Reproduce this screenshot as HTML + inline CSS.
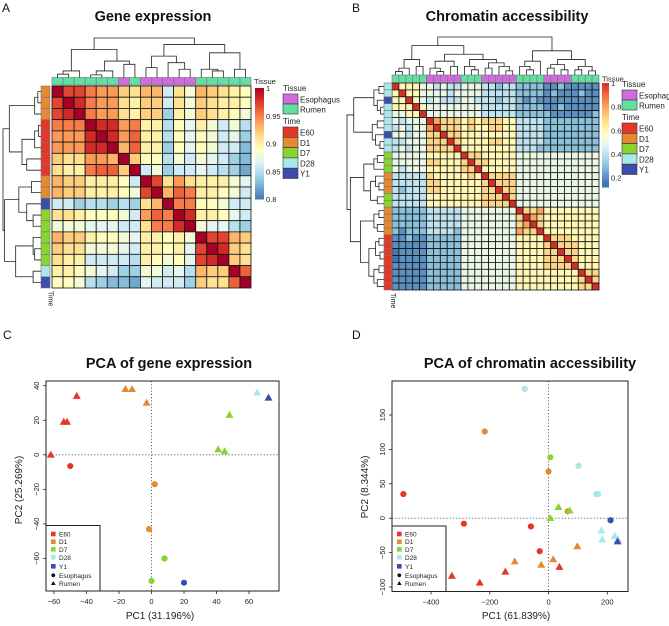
<!DOCTYPE html>
<html><head><meta charset="utf-8"><style>
html,body{margin:0;padding:0;background:#fff;}
svg{display:block;font-family:"Liberation Sans",Arial,sans-serif;}
</style></head><body>
<svg id="fig" width="669" height="626" viewBox="0 0 669 626" xmlns="http://www.w3.org/2000/svg"></svg>
<script>
// ---------- DATA ----------
const heatA = [
[1,.97,.97,.95,.94,.94,.92,.91,.93,.93,.86,.91,.88,.93,.92,.91,.90,.89],
[.97,1,.98,.95,.94,.94,.91,.90,.92,.92,.86,.91,.88,.92,.91,.90,.90,.89],
[.97,.98,1,.95,.94,.94,.91,.90,.92,.92,.84,.90,.88,.92,.91,.90,.89,.88],
[.95,.95,.95,1,.98,.98,.94,.95,.90,.90,.85,.89,.87,.90,.88,.86,.88,.85],
[.94,.94,.94,.98,1,.98,.94,.96,.90,.90,.85,.89,.87,.89,.88,.86,.87,.84],
[.94,.94,.94,.98,.98,1,.93,.96,.90,.90,.84,.89,.87,.89,.88,.86,.86,.83],
[.92,.91,.91,.94,.94,.93,1,.92,.89,.89,.85,.88,.86,.88,.87,.86,.84,.83],
[.91,.90,.90,.95,.96,.96,.92,1,.86,.88,.84,.86,.86,.87,.86,.85,.84,.82],
[.93,.92,.92,.90,.90,.90,.89,.86,1,.97,.91,.94,.91,.90,.90,.90,.88,.87],
[.93,.92,.92,.90,.90,.90,.89,.88,.97,1,.93,.96,.95,.90,.90,.89,.88,.86],
[.86,.86,.84,.85,.85,.84,.85,.84,.91,.93,1,.95,.95,.89,.89,.88,.86,.86],
[.91,.91,.90,.89,.89,.89,.88,.86,.94,.96,.95,1,.98,.90,.90,.89,.87,.86],
[.88,.88,.88,.87,.87,.87,.86,.86,.91,.95,.95,.98,1,.88,.87,.87,.85,.84],
[.93,.92,.92,.90,.89,.89,.88,.87,.90,.90,.89,.90,.88,1,.97,.97,.93,.92],
[.92,.91,.91,.88,.88,.88,.87,.86,.90,.90,.89,.90,.87,.97,1,.98,.92,.91],
[.91,.90,.90,.86,.86,.86,.86,.85,.90,.89,.88,.89,.87,.97,.98,1,.92,.91],
[.90,.90,.89,.88,.87,.86,.84,.84,.88,.88,.86,.87,.85,.93,.92,.92,1,.96],
[.89,.89,.88,.85,.84,.83,.83,.82,.87,.86,.86,.86,.84,.92,.91,.91,.96,1]];
const rowTimeA = ['D1','D1','D1','E60','E60','E60','E60','E60','D1','D1','Y1','D7','D7','D7','D7','D7','D28','Y1'];
const colTissueA = ['R','R','R','R','R','R','E','R','E','E','E','E','E','R','R','R','R','R'];
const colTreeA = [120,[85,[20,[10,0,1],2],[50,[20,[8,3,4],5],[40,6,7]]],[100,[65,[30,8,9],[45,10,[25,11,12]]],[75,[25,13,[20,14,15]],[25,16,17]]]];
const rowTreeA = [120,[100,[20,[10,0,1],2],[60,[20,[8,3,4],5],[45,6,7]]],[115,[70,[30,8,9],[45,10,[25,11,12]]],[80,[25,13,[20,14,15]],[25,16,17]]]];

// digit d -> d/10, X -> 1
const heatB = [
"X6665 54544 555 44344 3333 22322222",
"6X665 55545 555 44444 3333 23222322",
"66X65 45444 554 44344 3232 22222222",
"666X6 55555 555 44444 3333 22322222",
"5566X 55555 555 44444 3333 32222223",
"54555 X8777 676 77766 4444 33333333",
"45455 8X777 676 67766 4444 33333333",
"55455 77X77 666 66666 4444 33333333",
"44555 777X7 666 67766 4444 33333333",
"45455 7777X 666 66666 4443 33333333",
"55555 66666 X77 66666 5555 55555555",
"55555 77666 7X7 76666 5555 55555555",
"54555 66666 77X 66666 5555 55555555",
"44444 76666 676 X7777 5555 55555555",
"44444 77666 666 7X777 5555 55555555",
"43444 77666 666 77X77 5555 55555555",
"44444 66666 666 777X7 5555 55555555",
"44444 66666 666 7777X 5555 55555555",
"33333 44444 555 55555 X778 66666666",
"33333 44444 555 55555 7X87 66666666",
"33333 44444 555 55555 78X7 66666666",
"32333 44443 555 55555 877X 66666666",
"22322 33333 555 55555 6666 X7776666",
"22222 33333 555 55555 6666 7X777666",
"12222 33333 555 55555 6666 77X77666",
"12222 33333 555 55555 6666 777X7666",
"22222 33333 555 55555 6666 7777X666",
"22222 33333 555 55555 6666 66666X77",
"22222 33333 555 55555 6666 666667X7",
"22222 33333 555 55555 6666 6666677X"];
const rowTimeB = ['D28','D28','Y1','D28','D28','D28','D28','Y1','D28','D28','D7','D7','D7','D1','D1','D1','D7','D7','D1','D1','D1','D1','E60','E60','E60','E60','E60','E60','E60','E60'];
const colTissueB = ['R','R','R','R','R','E','E','E','E','E','R','R','R','E','E','E','E','E','R','R','R','R','E','E','E','E','R','R','R','R'];
const colTreeB = [110,[85,[45,[20,[10,0,1],2],[25,3,4]],[60,[40,[20,5,[10,6,7]],[25,8,9]],[45,[25,10,[15,11,12]],[35,[20,13,14],[25,15,[12,16,17]]]]]],[70,[40,[25,18,[15,19,20]],21],[45,[30,[20,22,23],[15,24,25]],[25,[15,26,27],[12,28,29]]]]];
const rowTreeB = [110,[90,[30,[15,0,1],[20,2,[10,3,4]]],[35,[20,5,6],[25,7,[12,8,9]]]],[100,[60,[30,[20,10,11],12],[40,[25,13,[15,14,15]],[20,16,17]]],[70,[30,[15,18,19],[20,20,21]],[45,[25,[15,22,23],[12,24,25]],[30,[15,26,27],[20,28,29]]]]]];

// PCA C
const pcaC_x = [-62,-54,-52,-46,-16,-12,-3,48,41,45,65,72,-50,2,-1.5,8,0,20];
const pcaC_y = [0,19,19,34,38,38,30,23,3,2,36,33,-6.5,-17,-43,-60,-73,-74];
const pcaC_t = ['E60','E60','E60','E60','D1','D1','D1','D7','D7','D7','D28','Y1','E60','D1','D1','D7','D7','Y1'];
const pcaC_s = ['tri','tri','tri','tri','tri','tri','tri','tri','tri','tri','tri','tri','cir','cir','cir','cir','cir','cir'];
const ticksCx = [-60,-40,-20,0,20,40,60];
const ticksCy = [-60,-40,-20,0,20,40];
// PCA D
const pcaD_x = [-81,-217,6,0,102,-494,163,169,65,211,-288,-60,-30, 34,72,6,180,183,225,236,235,98,-115,-25,16,37,-147,-234,-329];
const pcaD_y = [188,126,88.5,68,76,35,35,35,10,-3,-8,-12,-48, 16,11,0,-18,-31,-26,-31,-34,-41,-63,-68,-60,-71,-78,-94,-84];
const pcaD_t = ['D28','D1','D7','D1','D28','E60','D28','D28','D1','Y1','E60','E60','E60','D7','D7','D7','D28','D28','D28','D28','Y1','D1','D1','D1','D1','E60','E60','E60','E60'];
const pcaD_s = ['cir','cir','cir','cir','cir','cir','cir','cir','cir','cir','cir','cir','cir','tri','tri','tri','tri','tri','tri','tri','tri','tri','tri','tri','tri','tri','tri','tri','tri'];
const ticksDx = [-400,-200,0,200];
const ticksDy = [-100,-50,0,50,100,150];

const timeCol = {E60:'#e4372a',D1:'#e58a32',D7:'#8ad431',D28:'#a8e8e8',Y1:'#3a4cae'};
const tissueCol = {E:'#d06be0',R:'#63dfa2'};
const timeNames = ['E60','D1','D7','D28','Y1'];

// ---------- HELPERS ----------
const NS='http://www.w3.org/2000/svg';
const svg=document.getElementById('fig');
function el(tag,attrs,parent){const e=document.createElementNS(NS,tag);for(const k in attrs)e.setAttribute(k,attrs[k]);(parent||svg).appendChild(e);return e;}
function txt(s,attrs,parent){const e=el('text',attrs,parent);e.textContent=s;return e;}
const stops=['#4575b4','#74add1','#abd9e9','#e0f3f8','#ffffbf','#fee090','#fdae61','#f46d43','#d73027','#a50026'];
function hex(h){return [1,3,5].map(i=>parseInt(h.substr(i,2),16));}
function cmap(v,lo,hi){let t=(v-lo)/(hi-lo);t=Math.max(0,Math.min(1,t));const p=t*(stops.length-1);const i=Math.min(stops.length-2,Math.floor(p));const f=p-i;const a=hex(stops[i]),b=hex(stops[i+1]);return 'rgb('+a.map((c,k)=>Math.round(c+(b[k]-c)*f)).join(',')+')';}

function dendro(tree,orient,leafStart,step,base,len,g){
  const maxH=tree[0];
  function rec(n){
    if(typeof n==='number') return {p:leafStart+(n+0.5)*step,h:0};
    const a=rec(n[1]),b=rec(n[2]);
    const c=v=>base-len*v/maxH;
    const hy=c(n[0]);
    if(orient==='top'){
      el('path',{d:`M${a.p},${c(a.h)}V${hy}H${b.p}V${c(b.h)}`,fill:'none',stroke:'#222','stroke-width':0.8},g);
    }else{
      el('path',{d:`M${c(a.h)},${a.p}H${hy}V${b.p}H${c(b.h)}`,fill:'none',stroke:'#222','stroke-width':0.8},g);
    }
    return {p:(a.p+b.p)/2,h:n[0]};
  }
  rec(tree);
}

function heatPanel(o){
  const g=el('g',{});
  
  
  const n=o.vals.length, cw=(o.x1-o.x0)/n, ch=(o.y1-o.y0)/n;
  const cells=el('g',{},g);
  
  
  for(let i=0;i<n;i++)for(let j=0;j<n;j++){
    const r=el('rect',{x:o.x0+j*cw,y:o.y0+i*ch,width:cw,height:ch,fill:cmap(o.vals[i][j],o.lo,o.hi),stroke:'#111','stroke-width':0.8},cells);
    
    
  }
  for(let j=0;j<n;j++){
    const r=el('rect',{x:o.x0+j*cw,y:o.ay0,width:cw,height:o.ay1-o.ay0,fill:tissueCol[o.tissue[j]],stroke:'#777','stroke-width':0.6},g);
    
    
  }
  for(let i=0;i<n;i++){
    const r=el('rect',{x:o.ax0,y:o.y0+i*ch,width:o.ax1-o.ax0,height:ch,fill:timeCol[o.time[i]],stroke:'#777','stroke-width':0.6},g);
    
    
  }
  const dg=el('g',{},g);
  
  
  dendro(o.colTree,'top',o.x0,cw,o.ay0,o.ay0-o.dTop,dg);
  const rg=el('g',{},g);
  
  
  dendro(o.rowTree,'left',o.y0,ch,o.ax0,o.ax0-o.dLeft,rg);
  let t=txt('Tissue',{x:o.x1+3,y:o.ay1-1,'font-size':7.5,fill:'#222'},g);
  
  
  t=txt('Time',{x:0,y:0,'font-size':7,fill:'#222',transform:`translate(${(o.ax0+o.ax1)/2+3},${o.y1+3}) rotate(90)`},g);
  
  
  const cb=el('g',{},g);
  
  
  const N=60;
  for(let k=0;k<N;k++){
    const v=o.cbHi-(o.cbHi-o.cbLo)*(k+0.5)/N;
    el('rect',{x:o.cbx,y:o.cby0+k*(o.cby1-o.cby0)/N,width:o.cbw,height:(o.cby1-o.cby0)/N+0.5,fill:cmap(v,o.lo,o.hi)},cb);
  }
  o.cbTicks.forEach(v=>{
    const y=o.cby0+(o.cbHi-v)/(o.cbHi-o.cbLo)*(o.cby1-o.cby0);
    const tt=txt(String(v),{x:o.cbx+o.cbw+2,y:y+3,'font-size':7.5,fill:'#222'},cb);
    
    
  });
  const lg=el('g',{},g);
  
  
  t=txt('Tissue',{x:o.lx,y:o.ly+7,'font-size':8,fill:'#222'},lg);
  
  
  [['E','Esophagus'],['R','Rumen']].forEach((p,i)=>{
    el('rect',{x:o.lx,y:o.ly+10+i*10,width:15,height:10,fill:tissueCol[p[0]],stroke:'#333','stroke-width':0.6},lg);
    const tt=txt(p[1],{x:o.lx+17,y:o.ly+18.5+i*10,'font-size':8,fill:'#222'},lg);
    
    
  });
  t=txt('Time',{x:o.lx,y:o.ly+40,'font-size':8,fill:'#222'},lg);
  
  
  timeNames.forEach((nm,i)=>{
    el('rect',{x:o.lx,y:o.ly+43+i*10.3,width:15,height:10.3,fill:timeCol[nm],stroke:'#333','stroke-width':0.6},lg);
    const tt=txt(nm,{x:o.lx+17,y:o.ly+51.5+i*10.3,'font-size':8,fill:'#222'},lg);
    
    
  });
}

function pcaPanel(o){
  const g=el('g',{});
  
  
  const sx=v=>o.px0+(v-o.xr[0])/(o.xr[1]-o.xr[0])*(o.px1-o.px0);
  const sy=v=>o.py0+(v-o.yr[0])/(o.yr[1]-o.yr[0])*(o.py1-o.py0);
  el('line',{x1:sx(0),x2:sx(0),y1:o.ty,y2:o.by,stroke:'#555','stroke-dasharray':'1.2,2','stroke-width':0.9},g);
  el('line',{x1:o.lx,x2:o.rx,y1:sy(0),y2:sy(0),stroke:'#555','stroke-dasharray':'1.2,2','stroke-width':0.9},g);
  const pts=el('g',{},g);
  
  
  o.xs.forEach((xv,i)=>{
    const cx=sx(xv),cy=sy(o.ys[i]),c=timeCol[o.t[i]];
    let m;
    if(o.s[i]==='cir') m=el('circle',{cx,cy,r:3.1,fill:c},pts);
    else m=el('path',{d:`M${cx},${cy-4.2}L${cx+4},${cy+2.8}L${cx-4},${cy+2.8}Z`,fill:c},pts);
    
    
  });
  const fr=el('rect',{x:o.lx,y:o.ty,width:o.rx-o.lx,height:o.by-o.ty,fill:'none',stroke:'#222','stroke-width':1},g);
  
  
  o.tx.forEach(v=>{
    el('line',{x1:sx(v),x2:sx(v),y1:o.by,y2:o.by+3,stroke:'#222','stroke-width':0.8},g);
    const t=txt(String(v).replace('-','\u2212'),{x:sx(v),y:o.by+13,'font-size':7.5,'text-anchor':'middle',fill:'#222'},g);
    
    
  });
  o.ty2.forEach(v=>{
    el('line',{x1:o.lx-3,x2:o.lx,y1:sy(v),y2:sy(v),stroke:'#222','stroke-width':0.8},g);
    const t=txt(String(v).replace('-','\u2212'),{x:0,y:0,'font-size':7.5,'text-anchor':'middle',fill:'#222',transform:`translate(${o.lx-7},${sy(v)}) rotate(-90)`},g);
    
    
  });
  let t=txt(o.title,{x:o.tcx,y:o.tcy,'font-size':14.5,'font-weight':'bold','text-anchor':'middle',fill:'#111'},g);
  
  
  t=txt(o.xl,{x:o.xlx,y:619,'font-size':10,'text-anchor':'middle',fill:'#222'},g);
  
  
  t=txt(o.yl,{x:0,y:0,'font-size':10,'text-anchor':'middle',fill:'#222',transform:`translate(${o.ylx},${o.yly}) rotate(-90)`},g);
  
  
  const lg=el('g',{},g);
  
  
  el('rect',{x:o.lx,y:o.legY,width:54,height:o.by-o.legY,fill:'#fff',stroke:'#222','stroke-width':1},lg);
  const ys=[534,541.7,549.3,557.3,566.3,575.3,583.3];
  timeNames.forEach((nm,i)=>{
    el('rect',{x:o.lx+5,y:ys[i]-2.3,width:4.6,height:4.6,fill:timeCol[nm]},lg);
    const tt=txt(nm,{x:o.lx+13,y:ys[i]+2.5,'font-size':6.5,fill:'#222'},lg);
    
    
  });
  el('circle',{cx:o.lx+7.3,cy:ys[5],r:1.9,fill:'#111'},lg);
  el('path',{d:`M${o.lx+7.3},${ys[6]-2.3}l2.3,4l-4.6,0z`,fill:'#111'},lg);
  let tt=txt('Esophagus',{x:o.lx+13,y:ys[5]+2.5,'font-size':6.5,fill:'#222'},lg);
  
  
  tt=txt('Rumen',{x:o.lx+13,y:ys[6]+2.5,'font-size':6.5,fill:'#222'},lg);
  
  
}

// ---------- BUILD ----------
[['A',2,12],['B',352,12],['C',3,339],['D',352,339]].forEach(p=>{
  const t=txt(p[0],{x:p[1],y:p[2],'font-size':12,fill:'#111'});
  
  
});
let tt=txt('Gene expression',{x:153,y:21,'font-size':14.5,'font-weight':'bold','text-anchor':'middle',fill:'#111'});


tt=txt('Chromatin accessibility',{x:507,y:21,'font-size':14.5,'font-weight':'bold','text-anchor':'middle',fill:'#111'});



heatPanel({name:'gene-expression-heatmap',vals:heatA,lo:0.8,hi:1,cbLo:0.8,cbHi:1,x0:52,x1:251,y0:86,y1:288,ay0:77.5,ay1:85,ax0:41,ax1:50,
  tissue:colTissueA,time:rowTimeA,colTree:colTreeA,rowTree:rowTreeA,dTop:38,dLeft:3,
  cbx:255,cbw:9,cby0:88,cby1:199,cbTicks:[1,0.95,0.9,0.85,0.8],lx:283,ly:84});
const valsB=heatB.map(r=>r.replace(/ /g,'').split('').map(c=>c==='X'?1:+c/10));
heatPanel({name:'chromatin-accessibility-heatmap',vals:valsB,lo:0.15,hi:1.1,cbLo:0.12,cbHi:1,x0:392,x1:599,y0:83,y1:290,ay0:75,ay1:82.5,ax0:384,ax1:392,
  tissue:colTissueB,time:rowTimeB,colTree:colTreeB,rowTree:rowTreeB,dTop:37,dLeft:347,
  cbx:602,cbw:7,cby0:83,cby1:187,cbTicks:[1,0.8,0.6,0.4,0.2],lx:622,ly:80});

pcaPanel({name:'pca-gene-expression',xs:pcaC_x,ys:pcaC_y,t:pcaC_t,s:pcaC_s,xr:[-60,60],px0:54,px1:249,yr:[40,-60],py0:385.7,py1:558.5,
  lx:46,rx:279,ty:381,by:591,tx:ticksCx,ty2:ticksCy,title:'PCA of gene expression',tcx:169,tcy:368,
  xl:'PC1 (31.196%)',xlx:160,yl:'PC2 (25.269%)',ylx:22,yly:490,legY:525.5});
pcaPanel({name:'pca-chromatin-accessibility',xs:pcaD_x,ys:pcaD_y,t:pcaD_t,s:pcaD_s,xr:[-400,200],px0:431,px1:607.3,yr:[150,-100],py0:415,py1:587,
  lx:392,rx:628,ty:381,by:591.5,tx:ticksDx,ty2:ticksDy,title:'PCA of chromatin accessibility',tcx:530,tcy:368,
  xl:'PC1 (61.839%)',xlx:516,yl:'PC2 (8.344%)',ylx:368,yly:487,legY:526});
</script>
</body></html>
